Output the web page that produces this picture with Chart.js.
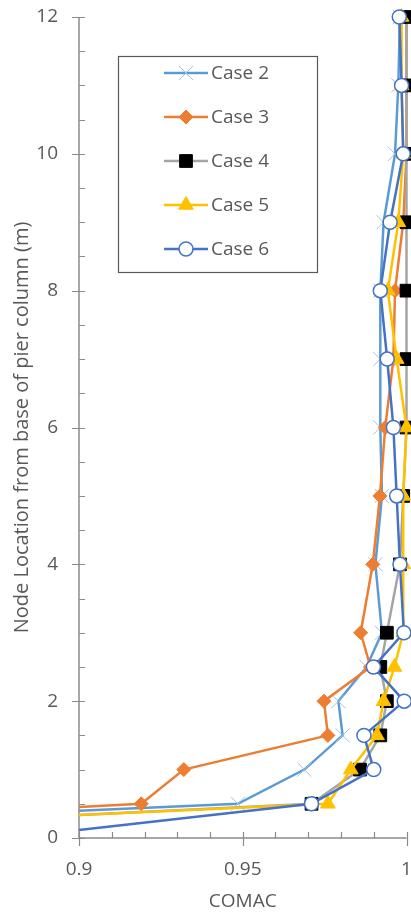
<!DOCTYPE html>
<html><head><meta charset="utf-8">
<script src="https://cdn.jsdelivr.net/npm/chart.js@4.4.1/dist/chart.umd.min.js"></script>
<style>html,body{margin:0;padding:0;background:#fff}#wrap{width:411px;height:913px;position:relative}</style>
</head><body><div id="wrap"><canvas id="c" width="411" height="913"></canvas></div>
<script>
// Node location (m) from base of pier column
const nodeLocations = [0, 0.5, 1, 1.5, 2, 2.5, 3, 4, 5, 6, 7, 8, 9, 10, 11, 12];
// COMAC values per case
const case2 = [0.706, 0.9485, 0.9688, 0.9805, 0.9792, 0.9878, 0.9925, 0.9905, 0.9925, 0.992, 0.992, 0.992, 0.993, 0.9965, 0.9975, 0.998];
const case3 = [0.717, 0.919, 0.932, 0.976, 0.9748, 0.989, 0.986, 0.9897, 0.9919, 0.9935, 0.996, 0.9965, 0.999, 1.0, 1.0, 1.0];
const case4 = [0.754, 0.971, 0.9858, 0.992, 0.994, 0.992, 0.994, 0.998, 0.999, 1.0, 1.0, 1.0, 1.0, 1.0, 1.0, 1.0];
const case5 = [0.745, 0.976, 0.983, 0.991, 0.993, 0.9963, 0.999, 0.999, 0.999, 1.0, 0.997, 0.9943, 0.9975, 0.999, 0.9985, 0.9985];
const case6 = [0.878, 0.971, 0.990, 0.987, 0.9993, 0.9899, 0.9992, 0.998, 0.997, 0.996, 0.9941, 0.992, 0.995, 0.999, 0.9985, 0.9978];
const seriesNames = ['Case 2', 'Case 3', 'Case 4', 'Case 5', 'Case 6'];
const xTickLabels = ['0.9', '0.95', '1'];
const yTickLabels = ['0', '2', '4', '6', '8', '10', '12'];

const FONT = '"Open Sans", "Liberation Sans", sans-serif';
const TEXT = '#595959';
const AXIS = '#8a8a8a';

const styles = [
  {line: '#5B9BD5', point: 'crossRot', r: 10, fill: '#5B9BD5', stroke: '#9DC3E6', pw: 1},
  {line: '#ED7D31', point: 'rectRot', r: 7, fill: '#ED7D31', stroke: '#ED7D31', pw: 1},
  {line: '#A5A5A5', point: 'rect', r: 9, fill: '#000000', stroke: '#000000', pw: 1},
  {line: '#FFC000', point: 'triangle', r: 8.5, fill: '#FFC000', stroke: '#FFC000', pw: 1},
  {line: '#4472C4', point: 'circle', r: 7, fill: '#FFFFFF', stroke: '#4472C4', pw: 1.5}
];
const allCases = [case2, case3, case4, case5, case6];

const datasets = allCases.map((vals, i) => ({
  label: seriesNames[i],
  data: vals.map((v, k) => ({x: v, y: nodeLocations[k]})),
  showLine: true,
  borderColor: styles[i].line,
  borderWidth: 2.5,
  pointStyle: styles[i].point,
  pointRadius: styles[i].r,
  pointBackgroundColor: styles[i].fill,
  pointBorderColor: styles[i].stroke,
  pointBorderWidth: styles[i].pw,
  tension: 0,
  order: 5 - i,
  clip: {left: 0, top: 12, right: 12, bottom: 0}
}));

function zeroPad(s) { s.paddingTop = 0; s.paddingBottom = 0; s.paddingLeft = 0; s.paddingRight = 0; }

const axisPlugin = {
  id: 'axisPlugin',
  beforeDatasetsDraw(chart) {
    const {ctx, chartArea: a, scales: {x, y}} = chart;
    ctx.save();
    ctx.strokeStyle = AXIS;
    ctx.lineWidth = 1.5;
    ctx.beginPath();
    ctx.moveTo(a.left, a.top); ctx.lineTo(a.left, a.bottom);
    ctx.moveTo(a.left, a.bottom); ctx.lineTo(a.right, a.bottom);
    ctx.stroke();
    ctx.lineWidth = 1.2;
    ctx.beginPath();
    for (let k = 0; k <= 24; k++) {
      const py = Math.round(y.getPixelForValue(k * 0.5)) + 0.5;
      if (k % 4 === 0) { ctx.moveTo(a.left - 7, py); ctx.lineTo(a.left, py); }
      ctx.moveTo(a.left, py); ctx.lineTo(a.left + 6, py);
    }
    for (let k = 0; k <= 10; k++) {
      const px = Math.round(x.getPixelForValue(0.9 + k * 0.01)) + 0.5;
      if (k % 5 === 0) { ctx.moveTo(px, a.bottom); ctx.lineTo(px, a.bottom + 8); }
      ctx.moveTo(px, a.bottom - 6); ctx.lineTo(px, a.bottom);
    }
    ctx.stroke();
    ctx.restore();
  },
  afterDraw(chart) {
    const ctx = chart.ctx;
    const box = {l: 118, t: 56, r: 317, b: 272};
    ctx.save();
    ctx.fillStyle = '#fff';
    ctx.fillRect(box.l, box.t, box.r - box.l, box.b - box.t);
    ctx.strokeStyle = '#595959';
    ctx.lineWidth = 1.2;
    ctx.strokeRect(box.l + 0.5, box.t + 0.5, box.r - box.l, box.b - box.t);
    chart.data.datasets.forEach((ds, i) => {
      const yy = 73 + i * 44;
      ctx.strokeStyle = ds.borderColor;
      ctx.lineWidth = 2.5;
      ctx.beginPath(); ctx.moveTo(164, yy); ctx.lineTo(208, yy); ctx.stroke();
      ctx.fillStyle = ds.pointBackgroundColor;
      ctx.strokeStyle = ds.pointBorderColor;
      ctx.lineWidth = ds.pointBorderWidth;
      Chart.helpers.drawPoint(ctx, {
        pointStyle: ds.pointStyle, radius: ds.pointRadius, rotation: 0, borderWidth: ds.pointBorderWidth
      }, 186, yy);
      ctx.fillStyle = TEXT;
      ctx.font = '19px ' + FONT;
      ctx.textBaseline = 'middle';
      ctx.textAlign = 'left';
      ctx.fillText(ds.label, 211, yy + 1);
    });
    ctx.restore();
  }
};

new Chart(document.getElementById('c'), {
  type: 'scatter',
  data: {datasets},
  options: {
    responsive: false,
    animation: false,
    events: [],
    layout: {autoPadding: false, padding: {top: 17, right: 4.5, left: 0, bottom: 0}},
    plugins: {legend: {display: false}, tooltip: {enabled: false}},
    scales: {
      x: {
        type: 'linear', min: 0.9, max: 1.0,
        afterBuildTicks(s) { s.ticks = xTickLabels.map(t => ({value: parseFloat(t)})); },
        ticks: {callback: (v) => xTickLabels.find(t => Math.abs(parseFloat(t) - v) < 1e-9) || '',
                color: TEXT, font: {family: FONT, size: 19}, padding: 20, maxRotation: 0, autoSkip: false},
        grid: {display: false, drawTicks: false},
        border: {display: false},
        title: {display: true, text: 'COMAC', color: TEXT, font: {family: FONT, size: 19}, padding: {top: 0, bottom: 0}},
        afterFit(s) { s.height = 75; zeroPad(s); }
      },
      y: {
        type: 'linear', min: 0, max: 12,
        afterBuildTicks(s) { s.ticks = yTickLabels.map(t => ({value: parseFloat(t)})); },
        ticks: {callback: (v) => String(v), color: TEXT, font: {family: FONT, size: 19}, padding: 21, autoSkip: false},
        grid: {display: false, drawTicks: false},
        border: {display: false},
        title: {display: true, text: 'Node Location from base of pier column (m)', color: TEXT, font: {family: FONT, size: 20}, padding: {top: 10, bottom: 0}},
        afterFit(s) { s.width = 79; zeroPad(s); }
      }
    }
  },
  plugins: [axisPlugin]
});
</script>
</body></html>
